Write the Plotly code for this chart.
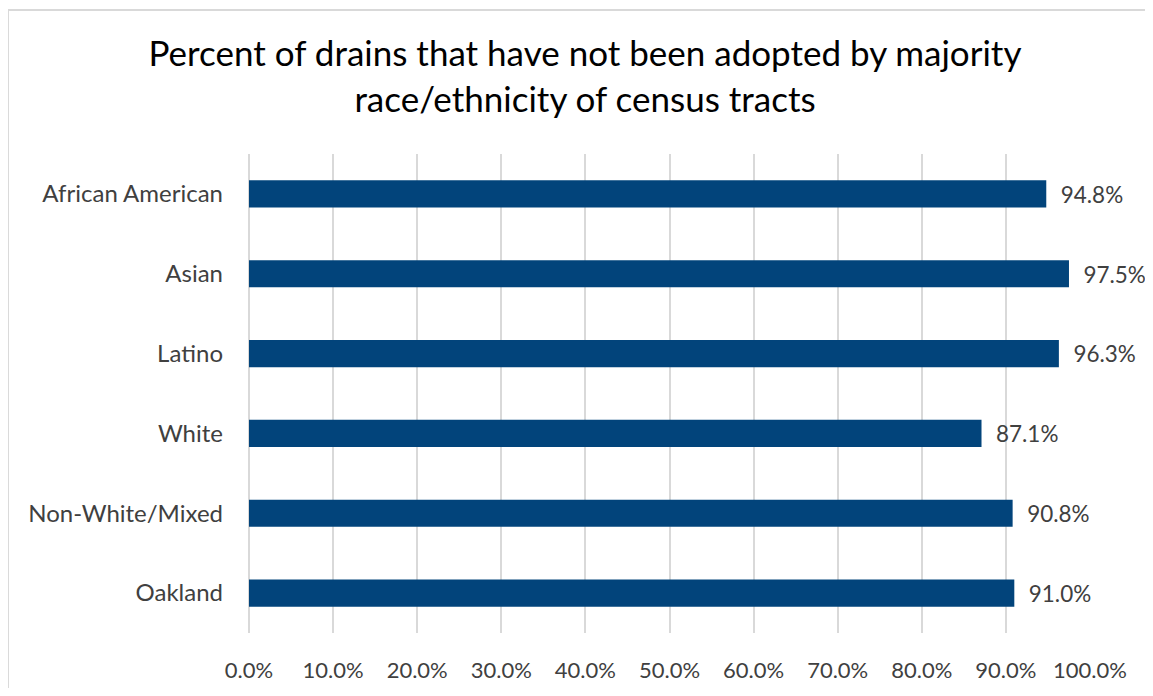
import plotly.graph_objects as go

categories = ["African American", "Asian", "Latino", "White", "Non-White/Mixed", "Oakland"]
values = [94.8, 97.5, 96.3, 87.1, 90.8, 91.0]

BAR_COLOR = "#02447B"
TEXT_COLOR = "#404040"
FONT = "Lato"

# page body has an 8px margin, so the figure is sized to fit inside the window
W, H = 1137, 680

fig = go.Figure()
fig.add_trace(go.Bar(
    y=categories, x=values, orientation="h",
    marker=dict(color=BAR_COLOR, line=dict(width=0)),
    text=[f"\u00a0\u00a0{v:.1f}%" for v in values], textposition="outside",
    textfont=dict(size=24, color=TEXT_COLOR, family=FONT),
    cliponaxis=False, hoverinfo="skip",
))

# chart frame: only the top and left edges are visible in the window
frame = dict(color="#d9d9d9", width=2)
fig.update_layout(
    width=W, height=H,
    margin=dict(l=241, r=55, t=146, b=55),
    paper_bgcolor="white", plot_bgcolor="white",
    bargap=0.66, showlegend=False,
    font=dict(family=FONT, color=TEXT_COLOR, size=20),
    title=dict(
        text="Percent of drains that have not been adopted by majority<br>race/ethnicity of census tracts",
        x=577 / W, xref="container", xanchor="center",
        y=1 - 58 / H, yref="container", yanchor="top",
        font=dict(size=35, color="#000000", family=FONT),
    ),
    shapes=[
        dict(type="line", xref="paper", yref="paper", x0=-0.2866, x1=1.2,
             y0=1.3006, y1=1.3006, line=frame, layer="below"),
        dict(type="line", xref="paper", yref="paper", x0=-0.2866, x1=-0.2866,
             y0=-0.3, y1=1.3006, line=frame, layer="below"),
    ],
)
fig.update_xaxes(
    range=[0, 100], dtick=10, tickformat=".1f", ticksuffix="%",
    showgrid=True, gridcolor="#d9d9d9", gridwidth=2,
    zeroline=True, zerolinecolor="#d9d9d9", zerolinewidth=2,
    showline=False, ticks="", ticklabelstandoff=22, automargin=False,
    tickfont=dict(size=22, color=TEXT_COLOR, family=FONT),
)
fig.update_yaxes(
    autorange="reversed", showgrid=False, showline=False, ticks="",
    ticklabelstandoff=25, automargin=False,
    tickfont=dict(size=24, color=TEXT_COLOR, family=FONT),
)

fig.write_html("out.html")
